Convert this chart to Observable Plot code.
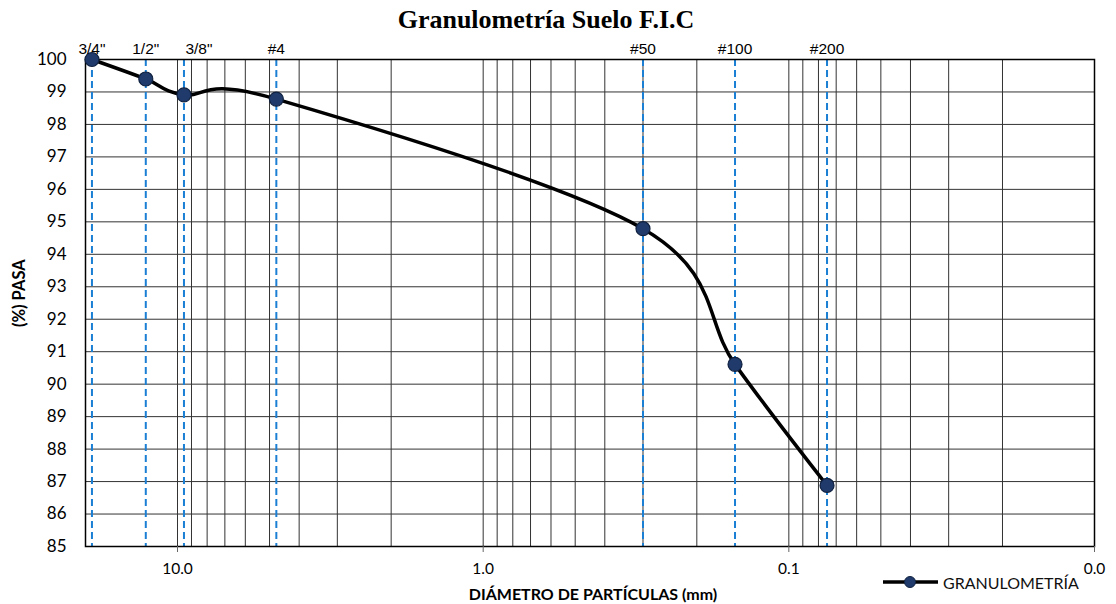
<!DOCTYPE html>
<html>
<head>
<meta charset="utf-8">
<script src="https://cdn.jsdelivr.net/npm/d3@7"></script>
<script src="https://cdn.jsdelivr.net/npm/@observablehq/plot@0.6"></script>
<style>
  html, body { margin: 0; padding: 0; background: #fff; }
  #wrap { position: relative; width: 1116px; height: 604px; overflow: hidden; }
  #title { height: 40px; line-height: 40px; text-align: center; padding-right: 24px;
           font-family: "Liberation Serif", "Times New Roman", serif; font-weight: bold; font-size: 26px; color: #000; }
  #legend { position: absolute; left: 882px; top: 572px; display: flex; align-items: center;
            font-family: Lato, sans-serif; font-size: 16px; color: #111; }
  #legend svg { margin-right: 4px; }
</style>
</head>
<body>
<div id="wrap">
  <div id="title">Granulometría Suelo F.I.C</div>
  <div id="chart"></div>
  <div id="legend"><svg width="57" height="20"><line x1="1" y1="10" x2="56" y2="10" stroke="#000" stroke-width="3.5"/><circle cx="28" cy="10" r="5.5" fill="#1f3a6b" stroke="#10213f" stroke-width="1"/></svg><span>GRANULOMETRÍA</span></div>
</div>
<script>
// Data
const tamices  = ['3/4"', '1/2"', '3/8"', '#4', '#50', '#100', '#200'];
const aberturas = [19.05, 12.7, 9.525, 4.75, 0.3, 0.15, 0.075];   // mm
const pasa      = [100.0, 99.40, 98.91, 98.78, 94.79, 90.61, 86.88]; // % que pasa
const yTicks = [85, 86, 87, 88, 89, 90, 91, 92, 93, 94, 95, 96, 97, 98, 99, 100];
const xTicks = [10, 1, 0.1, 0.01];
const xDomain = [20, 0.01];
const yDomain = [85, 100];

const data = tamices.map((t, i) => ({tamiz: t, abertura: aberturas[i], pasa: pasa[i]}));
const minorGrid = d3.scaleLog().domain([xDomain[1], xDomain[0]]).ticks();

const chart = Plot.plot({
  width: 1116,
  height: 564,
  marginLeft: 85,
  marginRight: 22,
  marginTop: 19,
  marginBottom: 58,
  x: {type: "log", domain: xDomain},
  y: {domain: yDomain},
  style: {fontFamily: "Lato, sans-serif", background: "white", color: "#000", overflow: "visible"},
  marks: [
    Plot.ruleX(minorGrid, {stroke: "#333", strokeWidth: 1}),
    Plot.ruleY(yTicks, {stroke: "#333", strokeWidth: 1}),
    Plot.ruleX(data, {x: "abertura", stroke: "#1b7fd4", strokeWidth: 2, strokeDasharray: "7,4"}),
    Plot.frame({stroke: "#000", strokeWidth: 1.5}),
    Plot.axisX({ticks: xTicks, tickFormat: d3.format(".1f"), tickSize: 6, tickPadding: 10,
                fontSize: 15.5, stroke: "#666", label: null}),
    Plot.axisY({ticks: yTicks, tickSize: 0, tickPadding: 19, fontSize: 17, label: null}),
    Plot.line(data, {x: "abertura", y: "pasa", curve: "cardinal", tension: 0,
                     stroke: "#000", strokeWidth: 3.5, strokeLinejoin: "round"}),
    Plot.dot(data, {x: "abertura", y: "pasa", r: 7, fill: "#1f3a6b", stroke: "#10213f", strokeWidth: 1.2}),
    Plot.text(data.filter(d => d.tamiz !== '3/8"'), {x: "abertura", text: "tamiz", frameAnchor: "top",
              lineAnchor: "bottom", dy: -6, fontSize: 15.5, fontFamily: "Liberation Sans, Arial, sans-serif"}),
    Plot.text(data.filter(d => d.tamiz === '3/8"'), {x: "abertura", text: "tamiz", frameAnchor: "top",
              lineAnchor: "bottom", dy: -6, dx: 15, fontSize: 15.5, fontFamily: "Liberation Sans, Arial, sans-serif"}),
    Plot.text(["DIÁMETRO DE PARTÍCULAS (mm)"], {frameAnchor: "bottom", lineAnchor: "bottom", dy: 53, dx: 3,
              fontSize: 16, fontWeight: "bold"}),
    Plot.text(["(%) PASA"], {frameAnchor: "left", rotate: -90, dx: -66, dy: 24,
              fontSize: 16.5, fontWeight: "bold"})
  ]
});
document.getElementById("chart").appendChild(chart);
</script>
</body>
</html>
